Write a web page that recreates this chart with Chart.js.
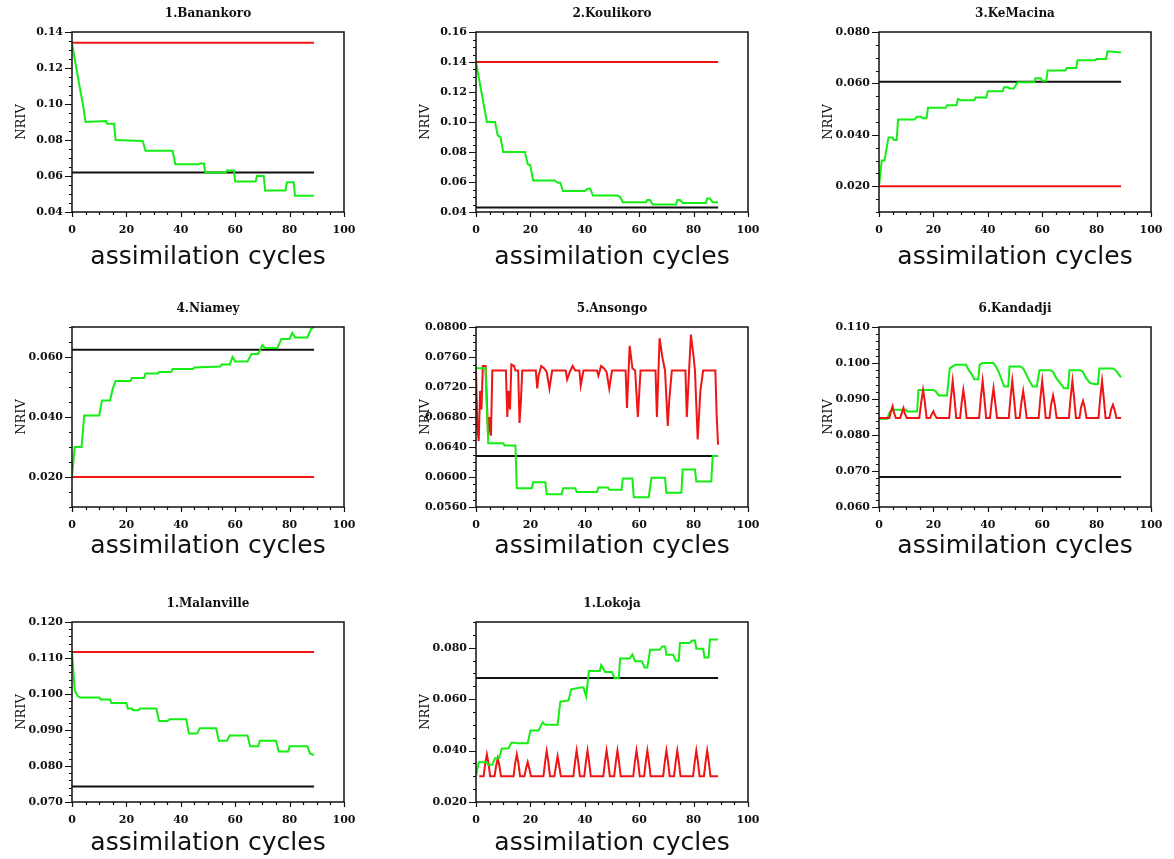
<!DOCTYPE html>
<html>
<head>
<meta charset="utf-8">
<script src="https://cdn.jsdelivr.net/npm/chart.js@4.4.0/dist/chart.umd.min.js"></script>
<style>
  body { margin: 0; background: #fff; overflow: hidden; width: 1174px; height: 859px; position: relative; }
  .panel { position: absolute; width: 360px; height: 280px; }
</style>
</head>
<body>
<div class="panel" style="left:0px;top:0px"><canvas id="p1" width="360" height="280"></canvas></div>
<div class="panel" style="left:404px;top:0px"><canvas id="p2" width="360" height="280"></canvas></div>
<div class="panel" style="left:807px;top:0px"><canvas id="p3" width="360" height="280"></canvas></div>
<div class="panel" style="left:0px;top:295px"><canvas id="p4" width="360" height="280"></canvas></div>
<div class="panel" style="left:404px;top:295px"><canvas id="p5" width="360" height="280"></canvas></div>
<div class="panel" style="left:807px;top:295px"><canvas id="p6" width="360" height="280"></canvas></div>
<div class="panel" style="left:0px;top:590px"><canvas id="p7" width="360" height="280"></canvas></div>
<div class="panel" style="left:404px;top:590px"><canvas id="p8" width="360" height="280"></canvas></div>
<script>
const cycleTicks = [0, 20, 40, 60, 80, 100];
const lastCycle = 89;

// 1.Banankoro
const banankoroCycles = [0, 1, 3, 4, 5, 12.5, 13, 15.5, 16, 26, 27, 37, 38, 46.5, 47, 48.5, 49, 56.5, 57, 59.5, 60, 67.5, 68, 70.5, 71, 78.5, 79, 81.5, 82, 89];
const banankoroNriv = [0.134, 0.125, 0.108, 0.100, 0.090, 0.0905, 0.089, 0.089, 0.080, 0.0795, 0.074, 0.074, 0.0665, 0.0665, 0.067, 0.067, 0.062, 0.062, 0.063, 0.063, 0.057, 0.057, 0.060, 0.060, 0.052, 0.052, 0.0565, 0.0565, 0.049, 0.049];
const banankoroRed = 0.134;
const banankoroBlack = 0.062;
const banankoroTicks = [0.04, 0.06, 0.08, 0.10, 0.12, 0.14];

// 2.Koulikoro
const koulikoroCycles = [0, 1, 2, 3, 4, 7, 8, 9, 10, 18, 19, 20, 21, 29, 30, 31, 32, 40, 41, 42, 43, 52, 53, 54, 62.5, 63, 64, 65, 73.5, 74, 75, 76, 84.5, 85, 86, 87, 89];
const koulikoroNriv = [0.140, 0.130, 0.120, 0.110, 0.100, 0.100, 0.091, 0.090, 0.080, 0.080, 0.072, 0.071, 0.061, 0.061, 0.0595, 0.0595, 0.054, 0.054, 0.0555, 0.0555, 0.051, 0.051, 0.050, 0.0465, 0.0465, 0.048, 0.048, 0.045, 0.045, 0.048, 0.048, 0.046, 0.046, 0.049, 0.049, 0.0465, 0.0465];
const koulikoroRed = 0.140;
const koulikoroBlack = 0.043;
const koulikoroTicks = [0.04, 0.06, 0.08, 0.10, 0.12, 0.14, 0.16];

// 3.KeMacina
const keMacinaCycles = [0, 1, 2, 3.5, 5, 5.5, 6.5, 7, 13, 14, 15.5, 16, 17.5, 18, 24.5, 25, 28.5, 29, 30, 35, 35.5, 39.5, 40, 45.5, 46, 47.5, 48, 49.5, 51, 57, 57.5, 59.5, 60, 61.5, 62, 68.5, 69, 72.5, 73, 79.5, 80, 83.5, 84, 89];
const keMacinaNriv = [0.020, 0.030, 0.030, 0.039, 0.039, 0.038, 0.038, 0.046, 0.046, 0.047, 0.047, 0.0465, 0.0465, 0.0505, 0.0505, 0.0515, 0.0515, 0.054, 0.0535, 0.0535, 0.0545, 0.0545, 0.057, 0.057, 0.0585, 0.0585, 0.058, 0.058, 0.0605, 0.0605, 0.062, 0.062, 0.061, 0.061, 0.065, 0.065, 0.066, 0.066, 0.069, 0.069, 0.0695, 0.0695, 0.0725, 0.072];
const keMacinaRed = 0.020;
const keMacinaBlack = 0.0607;
const keMacinaTicks = [0.020, 0.040, 0.060, 0.080];

// 4.Niamey
const niameyCycles = [0, 1, 3.5, 4.5, 10, 11, 14, 15, 16, 21.5, 22, 26.5, 27, 31.5, 32, 36.5, 37, 44.5, 45, 54.5, 55, 58, 59, 60, 64.5, 66, 68.5, 70, 71, 75.5, 77, 80, 81, 82, 86.5, 88, 89];
const niameyNriv = [0.020, 0.030, 0.030, 0.0405, 0.0405, 0.0455, 0.0455, 0.0495, 0.052, 0.052, 0.053, 0.053, 0.0545, 0.0545, 0.055, 0.055, 0.056, 0.056, 0.0565, 0.0568, 0.0575, 0.0575, 0.060, 0.0585, 0.0585, 0.061, 0.061, 0.064, 0.063, 0.063, 0.066, 0.066, 0.068, 0.0665, 0.0665, 0.0695, 0.070];
const niameyRed = 0.020;
const niameyBlack = 0.0624;
const niameyTicks = [0.020, 0.040, 0.060];

// 5.Ansongo
const ansongoCycles = [0, 3.5, 4, 4.5, 10, 10.5, 14.5, 15, 20.5, 21, 25.5, 26, 31.5, 32, 36.5, 37, 44.5, 45, 48.5, 49, 53.5, 54, 57.5, 58, 63.5, 64.5, 69.5, 70, 75.5, 76, 80.5, 81, 86.5, 87, 89];
const ansongoNriv = [0.0745, 0.0745, 0.069, 0.0645, 0.0645, 0.0642, 0.0642, 0.0585, 0.0585, 0.0593, 0.0593, 0.0577, 0.0577, 0.0585, 0.0585, 0.058, 0.058, 0.0586, 0.0586, 0.0583, 0.0583, 0.0598, 0.0598, 0.0573, 0.0573, 0.0599, 0.0599, 0.0579, 0.0579, 0.061, 0.061, 0.0594, 0.0594, 0.0628, 0.0628];
const ansongoRedCycles = [0, 0.5, 1, 1.5, 2, 2.5, 3.5, 4, 4.5, 5, 5.5, 6, 11, 11.5, 12, 12.5, 13, 14, 14.5, 15.5, 16, 16.5, 17, 22, 22.5, 23, 24, 25, 26, 27, 28, 33, 33.5, 34.5, 35.5, 36.5, 38, 38.5, 39.5, 44.5, 45, 46, 47, 48, 49, 50, 55, 55.5, 56.5, 57.5, 58.5, 59.5, 60.5, 66, 66.5, 67.5, 68.5, 69.5, 70.5, 71, 72, 77, 77.5, 79, 80, 80.5, 81.5, 82.5, 83.5, 88, 88.5, 89];
const ansongoRedNriv = [0.0742, 0.0665, 0.0648, 0.0715, 0.0690, 0.0748, 0.0748, 0.0700, 0.0655, 0.0680, 0.0655, 0.0742, 0.0742, 0.0680, 0.0715, 0.0690, 0.0750, 0.0748, 0.0742, 0.0742, 0.0672, 0.0700, 0.0742, 0.0742, 0.0718, 0.0735, 0.0748, 0.0745, 0.0740, 0.0718, 0.0742, 0.0742, 0.0730, 0.0740, 0.0748, 0.0742, 0.0742, 0.0722, 0.0742, 0.0742, 0.0735, 0.0748, 0.0745, 0.0740, 0.0718, 0.0742, 0.0742, 0.0692, 0.0775, 0.0745, 0.0742, 0.0680, 0.0742, 0.0742, 0.0680, 0.0785, 0.0760, 0.0742, 0.0668, 0.0700, 0.0742, 0.0742, 0.0680, 0.0790, 0.0760, 0.0742, 0.0650, 0.0715, 0.0742, 0.0742, 0.0680, 0.0643];
const ansongoBlack = 0.0628;
const ansongoTicks = [0.0560, 0.0600, 0.0640, 0.0680, 0.0720, 0.0760, 0.0800];

// 6.Kandadji
const kandadjiCycles = [0, 3, 4, 5, 10, 10.5, 14, 14.5, 20, 21, 22, 25, 26, 28, 32, 33, 34, 35, 36.5, 37, 38, 42, 43, 44, 45, 46, 47.5, 48, 52, 53, 54, 55, 56.5, 58, 59, 63, 64, 65, 66.5, 68, 69.5, 70, 74, 75, 76, 77.5, 79, 80.5, 81, 86, 87, 88, 89];
const kandadjiNriv = [0.0845, 0.0845, 0.0865, 0.087, 0.087, 0.0865, 0.0865, 0.0925, 0.0925, 0.092, 0.091, 0.091, 0.0985, 0.0995, 0.0995, 0.098, 0.097, 0.0955, 0.0955, 0.0995, 0.100, 0.100, 0.099, 0.0975, 0.0955, 0.0935, 0.0935, 0.099, 0.099, 0.0985, 0.097, 0.0955, 0.0935, 0.0935, 0.098, 0.098, 0.0975, 0.096, 0.0945, 0.093, 0.093, 0.098, 0.098, 0.0975, 0.096, 0.0945, 0.0942, 0.0942, 0.0985, 0.0985, 0.098, 0.097, 0.096];
const kandadjiRedCycles = [0, 3.8, 4.4, 5, 5.5, 6.2, 7.8, 8.4, 9, 9.5, 10.2, 14.8, 15.5, 16.2, 16.8, 17.5, 18.8, 19.4, 20, 20.5, 21.2, 25.8, 26.4, 27.1, 27.7, 28.4, 29.8, 30.4, 31, 31.6, 32.2, 36.8, 37.4, 38.1, 38.7, 39.4, 40.8, 41.4, 42.1, 42.7, 43.4, 47.7, 48.3, 49, 49.6, 50.3, 51.7, 52.3, 53, 53.6, 54.3, 58.7, 59.3, 60, 60.6, 61.3, 62.7, 63.3, 64, 64.6, 65.3, 69.8, 70.4, 71.1, 71.7, 72.4, 73.7, 74.3, 75, 75.6, 76.3, 80.7, 81.3, 82, 82.6, 83.3, 84.7, 85.3, 86, 86.6, 87.3, 89];
const kandadjiRedNriv = [0.0847, 0.0847, 0.0865, 0.0880, 0.0862, 0.0847, 0.0847, 0.0862, 0.0875, 0.0860, 0.0847, 0.0847, 0.0890, 0.0925, 0.0895, 0.0847, 0.0847, 0.0858, 0.0866, 0.0856, 0.0847, 0.0847, 0.0900, 0.0950, 0.0905, 0.0847, 0.0847, 0.0890, 0.0925, 0.0892, 0.0847, 0.0847, 0.0900, 0.0950, 0.0905, 0.0847, 0.0847, 0.0890, 0.0930, 0.0892, 0.0847, 0.0847, 0.0900, 0.0950, 0.0905, 0.0847, 0.0847, 0.0888, 0.0922, 0.0890, 0.0847, 0.0847, 0.0900, 0.0950, 0.0905, 0.0847, 0.0847, 0.0885, 0.0910, 0.0886, 0.0847, 0.0847, 0.0900, 0.0950, 0.0905, 0.0847, 0.0847, 0.0878, 0.0895, 0.0878, 0.0847, 0.0847, 0.0900, 0.0950, 0.0905, 0.0847, 0.0847, 0.0870, 0.0884, 0.0870, 0.0847, 0.0847];
const kandadjiBlack = 0.0683;
const kandadjiTicks = [0.060, 0.070, 0.080, 0.090, 0.100, 0.110];

// 1.Malanville
const malanvilleCycles = [0, 1, 2, 3, 10, 10.5, 14, 14.5, 20, 20.5, 22, 22.5, 24.5, 25, 31, 32, 35, 36, 42, 43, 46, 47, 53, 54, 57, 58, 64.5, 65.5, 68.5, 69, 75, 76, 79.5, 80, 86.5, 87.5, 89];
const malanvilleNriv = [0.1117, 0.101, 0.0995, 0.099, 0.099, 0.0985, 0.0985, 0.0975, 0.0975, 0.096, 0.096, 0.0955, 0.0955, 0.096, 0.096, 0.0925, 0.0925, 0.093, 0.093, 0.089, 0.089, 0.0905, 0.0905, 0.087, 0.087, 0.0885, 0.0885, 0.0855, 0.0855, 0.087, 0.087, 0.084, 0.084, 0.0855, 0.0855, 0.0835, 0.083];
const malanvilleRed = 0.1117;
const malanvilleBlack = 0.0743;
const malanvilleTicks = [0.070, 0.080, 0.090, 0.100, 0.110, 0.120];

// 1.Lokoja
const lokojaCycles = [0, 1, 2, 4, 4.5, 6, 7, 8.5, 9.5, 12, 13, 14.5, 15, 19, 20, 23, 24.5, 25.5, 30, 31, 34, 35, 38.5, 39.5, 40.5, 41.5, 45.5, 46, 47.5, 50, 51, 52.5, 53, 56.5, 57.5, 58.5, 61, 62, 63, 64, 67.5, 68.5, 69.5, 70, 72.5, 73.5, 74.5, 75, 78.5, 79.5, 80.5, 81, 83.5, 84, 85.5, 86, 89];
const lokojaNriv = [0.030, 0.0355, 0.0355, 0.0355, 0.0345, 0.0345, 0.037, 0.037, 0.0408, 0.0408, 0.043, 0.043, 0.0428, 0.0428, 0.0478, 0.0478, 0.051, 0.050, 0.050, 0.059, 0.0595, 0.0638, 0.0645, 0.0645, 0.061, 0.0709, 0.0709, 0.0732, 0.0706, 0.0706, 0.0681, 0.0681, 0.0758, 0.0758, 0.0774, 0.0747, 0.0747, 0.0723, 0.0723, 0.0792, 0.0792, 0.0805, 0.0805, 0.0773, 0.0773, 0.0749, 0.0749, 0.0818, 0.0818, 0.0828, 0.0828, 0.0796, 0.0796, 0.0762, 0.0762, 0.0832, 0.0832];
const lokojaRedCycles = [1.2, 2.8, 3.4, 4, 4.6, 5.2, 6.8, 7.4, 8, 8.6, 9.2, 13.8, 14.4, 15, 15.6, 16.2, 17.8, 18.4, 19, 19.6, 20.2, 24.8, 25.4, 26, 26.6, 27.2, 28.8, 29.4, 30, 30.6, 31.2, 35.8, 36.4, 37, 37.6, 38.2, 39.8, 40.4, 41, 41.6, 42.2, 46.8, 47.4, 48, 48.6, 49.2, 50.8, 51.4, 52, 52.6, 53.2, 57.8, 58.4, 59, 59.6, 60.2, 61.8, 62.4, 63, 63.6, 64.2, 68.8, 69.4, 70, 70.6, 71.2, 72.8, 73.4, 74, 74.6, 75.2, 79.8, 80.4, 81, 81.6, 82.2, 83.8, 84.4, 85, 85.6, 86.2, 89];
const lokojaRedNriv = [0.030, 0.030, 0.035, 0.0385, 0.035, 0.030, 0.030, 0.034, 0.037, 0.034, 0.030, 0.030, 0.035, 0.0385, 0.035, 0.030, 0.030, 0.033, 0.0355, 0.033, 0.030, 0.030, 0.0355, 0.0398, 0.0355, 0.030, 0.030, 0.034, 0.0378, 0.034, 0.030, 0.030, 0.0355, 0.040, 0.0355, 0.030, 0.030, 0.0355, 0.040, 0.0355, 0.030, 0.030, 0.0355, 0.040, 0.0355, 0.030, 0.030, 0.0355, 0.040, 0.0355, 0.030, 0.030, 0.0355, 0.040, 0.0355, 0.030, 0.030, 0.0355, 0.040, 0.0355, 0.030, 0.030, 0.0355, 0.040, 0.0355, 0.030, 0.030, 0.0355, 0.040, 0.0355, 0.030, 0.030, 0.0355, 0.040, 0.0355, 0.030, 0.030, 0.0355, 0.040, 0.0355, 0.030, 0.030];
const lokojaBlack = 0.0682;
const lokojaTicks = [0.020, 0.040, 0.060, 0.080];

const GREEN = '#14ee14';
const RED = '#f01414';
const BLACK = '#111111';

const pts = (xs, ys) => xs.map((x, i) => ({ x: x, y: ys[i] }));
const flat = v => [{ x: 0, y: v }, { x: lastCycle, y: v }];

// cadre + petites graduations
const frameTicks = {
    id: 'frameTicks',
    afterDraw(chart, args, opts) {
        const { ctx, chartArea: a, scales: { x, y } } = chart;
        ctx.save();
        ctx.strokeStyle = '#111';
        ctx.lineWidth = 1.5;
        ctx.strokeRect(a.left, a.top, a.right - a.left, a.bottom - a.top);
        ctx.lineWidth = 1.2;
        ctx.beginPath();
        const nx = Math.round((x.max - x.min) / opts.xMinor);
        for (let i = 0; i <= nx; i++) {
            const v = x.min + i * opts.xMinor;
            const major = x.ticks.some(t => Math.abs(t.value - v) < 1e-9);
            const px = Math.round(x.getPixelForValue(v)) + 0.5;
            ctx.moveTo(px, a.bottom);
            ctx.lineTo(px, a.bottom + (major ? 5 : 3));
        }
        const ny = Math.round((y.max - y.min) / opts.yMinor);
        for (let i = 0; i <= ny; i++) {
            const v = y.min + i * opts.yMinor;
            const major = y.ticks.some(t => Math.abs(t.value - v) < 1e-9);
            const py = Math.round(y.getPixelForValue(v)) + 0.5;
            ctx.moveTo(a.left, py);
            ctx.lineTo(a.left - (major ? 7 : 3), py);
        }
        ctx.stroke();
        ctx.restore();
    }
};

const titlePad = [10.5, 16.5, 14.5];

function dibujar(id, titulo, row, yMin, yMax, yTicks, dec, yMinor, series) {
    const ctx = document.getElementById(id).getContext('2d');
    new Chart(ctx, {
        type: 'line',
        data: {
            datasets: series.map(s => ({
                data: s.data,
                borderColor: s.color,
                borderWidth: 2,
                pointRadius: 0,
                tension: 0,
                fill: false
            }))
        },
        options: {
            responsive: false,
            animation: false,
            layout: { padding: { left: 0, right: 16, top: 0, bottom: 0 } },
            plugins: {
                legend: { display: false },
                tooltip: { enabled: false },
                title: {
                    display: true,
                    text: titulo,
                    fullSize: false,
                    color: '#111',
                    font: { family: 'DejaVu Serif', size: 12, weight: 'bold', lineHeight: 1 },
                    padding: { top: 8, bottom: 12 }
                },
                frameTicks: { xMinor: 5, yMinor: yMinor }
            },
            scales: {
                x: {
                    type: 'linear',
                    min: 0,
                    max: 100,
                    afterBuildTicks: s => { s.ticks = cycleTicks.map(v => ({ value: v })); },
                    afterFit: s => { s.height = 68; s.paddingLeft = 0; s.paddingRight = 0; },
                    grid: { display: false, drawTicks: false },
                    border: { display: false },
                    ticks: {
                        padding: 12,
                        maxRotation: 0,
                        autoSkip: false,
                        color: '#111',
                        font: { family: 'DejaVu Serif', size: 11, weight: 'bold' }
                    },
                    title: {
                        display: true,
                        text: 'assimilation cycles',
                        color: '#111',
                        font: { family: 'DejaVu Sans', size: 25, lineHeight: 1 },
                        padding: { top: 0, bottom: titlePad[row] }
                    }
                },
                y: {
                    min: yMin,
                    max: yMax,
                    afterBuildTicks: s => { s.ticks = yTicks.map(v => ({ value: v })); },
                    afterFit: s => { s.width = 72; s.paddingTop = 0; s.paddingBottom = 0; },
                    grid: { display: false, drawTicks: false },
                    border: { display: false },
                    ticks: {
                        padding: 9,
                        color: '#111',
                        font: { family: 'DejaVu Serif', size: 11, weight: 'bold' },
                        callback: v => Number(v).toFixed(dec)
                    },
                    title: {
                        display: true,
                        text: 'NRIV',
                        color: '#111',
                        font: { family: 'DejaVu Serif', size: 13, lineHeight: 1 },
                        padding: { top: 15.5, bottom: 0 }
                    }
                }
            }
        },
        plugins: [frameTicks]
    });
}

dibujar('p1', '1.Banankoro', 0, 0.04, 0.14, banankoroTicks, 2, 0.005, [
    { data: pts(banankoroCycles, banankoroNriv), color: GREEN },
    { data: flat(banankoroRed), color: RED },
    { data: flat(banankoroBlack), color: BLACK }
]);
dibujar('p2', '2.Koulikoro', 0, 0.04, 0.16, koulikoroTicks, 2, 0.005, [
    { data: pts(koulikoroCycles, koulikoroNriv), color: GREEN },
    { data: flat(koulikoroRed), color: RED },
    { data: flat(koulikoroBlack), color: BLACK }
]);
dibujar('p3', '3.KeMacina', 0, 0.01, 0.08, keMacinaTicks, 3, 0.005, [
    { data: pts(keMacinaCycles, keMacinaNriv), color: GREEN },
    { data: flat(keMacinaRed), color: RED },
    { data: flat(keMacinaBlack), color: BLACK }
]);
dibujar('p4', '4.Niamey', 1, 0.01, 0.07, niameyTicks, 3, 0.005, [
    { data: pts(niameyCycles, niameyNriv), color: GREEN },
    { data: flat(niameyRed), color: RED },
    { data: flat(niameyBlack), color: BLACK }
]);
dibujar('p5', '5.Ansongo', 1, 0.056, 0.080, ansongoTicks, 4, 0.001, [
    { data: pts(ansongoCycles, ansongoNriv), color: GREEN },
    { data: pts(ansongoRedCycles, ansongoRedNriv), color: RED },
    { data: flat(ansongoBlack), color: BLACK }
]);
dibujar('p6', '6.Kandadji', 1, 0.060, 0.110, kandadjiTicks, 3, 0.002, [
    { data: pts(kandadjiRedCycles, kandadjiRedNriv), color: RED },
    { data: pts(kandadjiCycles, kandadjiNriv), color: GREEN },
    { data: flat(kandadjiBlack), color: BLACK }
]);
dibujar('p7', '1.Malanville', 2, 0.070, 0.120, malanvilleTicks, 3, 0.002, [
    { data: pts(malanvilleCycles, malanvilleNriv), color: GREEN },
    { data: flat(malanvilleRed), color: RED },
    { data: flat(malanvilleBlack), color: BLACK }
]);
dibujar('p8', '1.Lokoja', 2, 0.020, 0.090, lokojaTicks, 3, 0.005, [
    { data: pts(lokojaCycles, lokojaNriv), color: GREEN },
    { data: pts(lokojaRedCycles, lokojaRedNriv), color: RED },
    { data: flat(lokojaBlack), color: BLACK }
]);
</script>
</body>
</html>
